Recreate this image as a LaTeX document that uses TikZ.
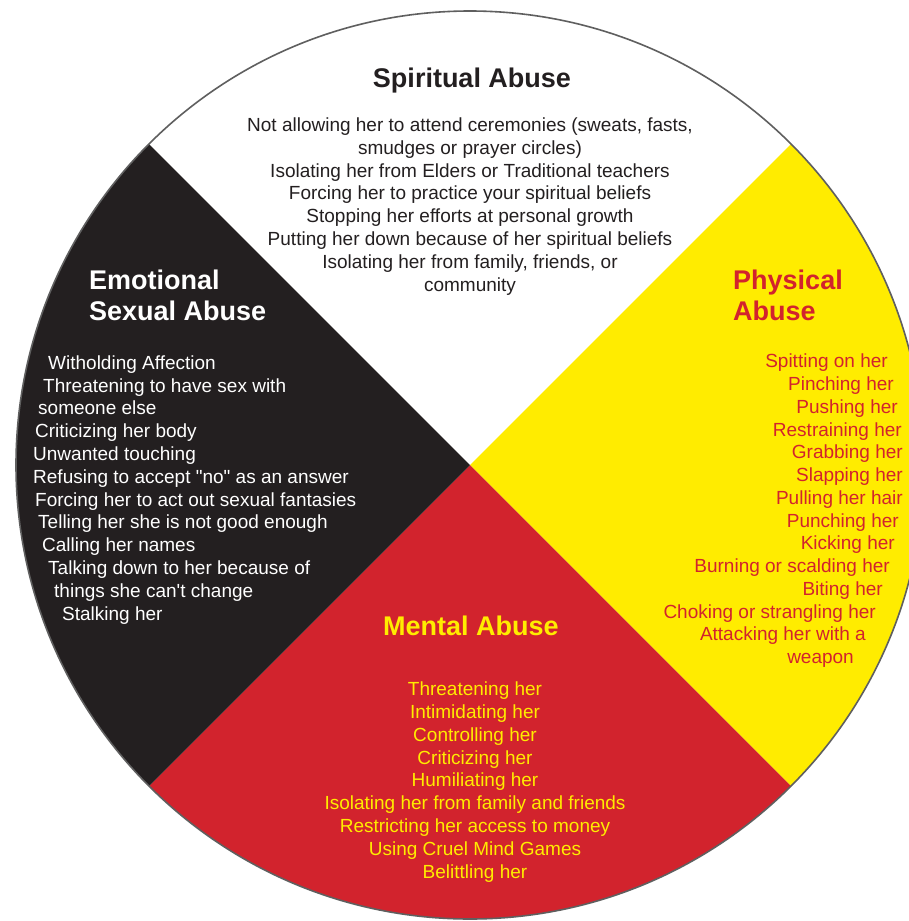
\documentclass[tikz,border=0pt]{standalone}
\usepackage{fontspec}
\setmainfont{Liberation Sans}
\usepackage{tikz}
\definecolor{wheelyellow}{RGB}{255,236,0}
\definecolor{wheelred}{RGB}{210,35,45}
\definecolor{wheelblack}{RGB}{35,31,32}
\definecolor{rimgray}{RGB}{95,95,95}
\newcommand{\bodysize}{\fontsize{19}{22.8}\selectfont}
\newcommand{\headsize}{\fontsize{27}{31}\selectfont\bfseries}
\tikzset{%
	item/.style = {font = \bodysize, inner sep = 0pt},
	head/.style = {font = \headsize, inner sep = 0pt},
	rim/.style = {draw = rimgray, line width = 1.6pt}
}
\begin{document}
\begin{tikzpicture}[x=1pt,y=-1pt]
	\useasboundingbox (0,0) rectangle (908,921);
	\fill [white] (0,0) rectangle (908,921);
	\coordinate (O) at (470,465);
	% the four quarters of the wheel
	\begin{scope}
		\clip (O) circle [radius=454pt];
		\fill [white] (O) -- (-300,-305) -- (1240,-305) -- cycle;
		\fill [wheelyellow] (O) -- (1240,-305) -- (1240,1235) -- cycle;
		\fill [wheelred] (O) -- (1240,1235) -- (-300,1235) -- cycle;
		\fill [wheelblack] (O) -- (-300,1235) -- (-300,-305) -- cycle;
	\end{scope}
	\draw [rim] (O) circle [radius=454pt];
	% spiritual
	\node [head, anchor=base, text=wheelblack] (sphead) at (472,87.5) {Spiritual Abuse};
	\foreach \txt [count=\i] in {{Not allowing her to attend ceremonies (sweats, fasts,}, {smudges or prayer circles)}, {Isolating her from Elders or Traditional teachers}, {Forcing her to practice your spiritual beliefs}, {Stopping her efforts at personal growth}, {Putting her down because of her spiritual beliefs}, {Isolating her from family, friends, or}, {community}}
		\node [item, anchor=base, text=wheelblack] (sp\i) at (470,{131.5+(\i-1)*22.8}) {\txt};
	% emotional
	\node [head, anchor=base west, text=white] (emhead1) at (89,289.3) {Emotional};
	\node [head, anchor=base west, text=white] (emhead2) at (89,320) {Sexual Abuse};
	\foreach \dx/\txt [count=\i] in {48/Witholding Affection, 43/Threatening to have sex with, 38/someone else, 35/Criticizing her body, 33/Unwanted touching, 33/Refusing to accept \textquotedbl no\textquotedbl{} as an answer, 35/Forcing her to act out sexual fantasies, 38/Telling her she is not good enough, 42/Calling her names, 48/Talking down to her because of, 54/things she can\textquotesingle t change, 62/Stalking her}
		\node [item, anchor=base west, text=white] (em\i) at (\dx,{369.3+(\i-1)*22.8}) {\txt};
	% physical
	\node [head, anchor=base west, text=wheelred] (phhead1) at (733,289.3) {Physical};
	\node [head, anchor=base west, text=wheelred] (phhead2) at (733,320) {Abuse};
	\foreach \rx/\txt [count=\i] in {888/Spitting on her, 894/Pinching her, 898/Pushing her, 902/Restraining her, 903/Grabbing her, 903/Slapping her, 903/Pulling her hair, 899/Punching her, 895/Kicking her, 890/Burning or scalding her, 883/Biting her, 876/Choking or strangling her, 866/Attacking her with a, 854/weapon}
		\node [item, anchor=base east, text=wheelred] (ph\i) at (\rx,{367.8+(\i-1)*22.75}) {\txt};
	% mental
	\node [head, anchor=base, text=wheelyellow] (mehead) at (471,635.7) {Mental Abuse};
	\foreach \txt [count=\i] in {Threatening her, Intimidating her, Controlling her, Criticizing her, Humiliating her, Isolating her from family and friends, Restricting her access to money, Using Cruel Mind Games, Belittling her}
		\node [item, anchor=base, text=wheelyellow] (me\i) at (475,{695.6+(\i-1)*22.8}) {\txt};
\end{tikzpicture}
\end{document}
